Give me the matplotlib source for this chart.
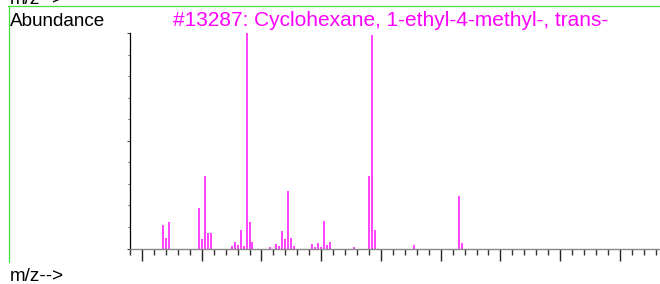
import matplotlib
matplotlib.use("Agg")
import matplotlib.pyplot as plt
from matplotlib.lines import Line2D
from matplotlib.ticker import MultipleLocator

mz = [27, 28, 29, 39, 40, 41, 42, 43, 50, 51, 52, 53, 54, 55, 56, 57,
      63, 65, 66, 67, 68, 69, 70, 71, 77, 78, 79, 80, 81, 82, 83, 91,
      96, 97, 98, 111, 126, 127]
abundance = [10.9, 5.1, 12.4, 19.0, 4.5, 33.9, 7.3, 7.3, 1.0, 2.9, 1.4, 8.4, 1.2, 100, 12.3, 3.0,
             0.6, 2.3, 1.2, 8.0, 4.2, 26.6, 4.8, 1.2, 2.3, 0.6, 2.6, 0.5, 13.0, 1.5, 2.8, 0.8,
             33.9, 99.2, 8.5, 1.5, 24.5, 2.4]
title = "#13287: Cyclohexane, 1-ethyl-4-methyl-, trans-"

W, H = 660, 284
fig = plt.figure(figsize=(W / 100, H / 100), dpi=100)
plt.rcParams['font.family'] = ['Liberation Sans', 'DejaVu Sans']

def fx(px):
    return px / W

def fy(py):
    return 1 - py / H

x0, x1 = 130, 660
ybase, ytop = 248.5, 33.3
ax = fig.add_axes([fx(x0), fy(ybase), fx(x1 - x0), (ybase - ytop) / H])
ppm = 2.9875
ax.set_xlim(16, 16 + (x1 - x0) / ppm)
ax.set_ylim(0, 100)
ax.vlines(mz, 0, abundance, color='#ff33ff', lw=1.3)

for s in ['top', 'right']:
    ax.spines[s].set_visible(False)
ax.spines['left'].set_color('black')
ax.spines['left'].set_linewidth(0.9)
ax.spines['bottom'].set_color('#888888')
ax.spines['bottom'].set_linewidth(1.0)
ax.patch.set_alpha(0)

ax.xaxis.set_major_locator(MultipleLocator(20))
ax.xaxis.set_minor_locator(MultipleLocator(4))
ax.tick_params(axis='x', which='major', direction='out', length=8.6, width=1.0, color='#222222', labelbottom=False)
ax.tick_params(axis='x', which='minor', direction='out', length=4.3, width=1.0, color='#333333')
ax.yaxis.set_major_locator(MultipleLocator(50))
ax.yaxis.set_minor_locator(MultipleLocator(10))
ax.tick_params(axis='y', which='major', direction='out', length=2.5, width=0.8, color='#444444', labelleft=False)
ax.tick_params(axis='y', which='minor', direction='out', length=1.5, width=0.8, color='#666666')

# green frame
fig.add_artist(Line2D([fx(8), fx(660)], [fy(6), fy(6)], color='#44dd44', lw=0.9, transform=fig.transFigure))
fig.add_artist(Line2D([fx(8.5), fx(8.5)], [fy(6), fy(262)], color='#44dd44', lw=0.9, transform=fig.transFigure))

fig.text(fx(10), fy(26.5), "Abundance", fontsize=13.6, color='black', va='baseline', ha='left')
fig.text(fx(173), fy(26.5), title, fontsize=15.0, color='#ff00ff', va='baseline', ha='left')
fig.text(fx(10), fy(281), "m/z-->", fontsize=13.6, color='black', va='baseline', ha='left')
fig.text(fx(10), fy(3.5), "m/z-->", fontsize=13.6, color='black', va='baseline', ha='left')

fig.savefig("out.png", dpi=100)
